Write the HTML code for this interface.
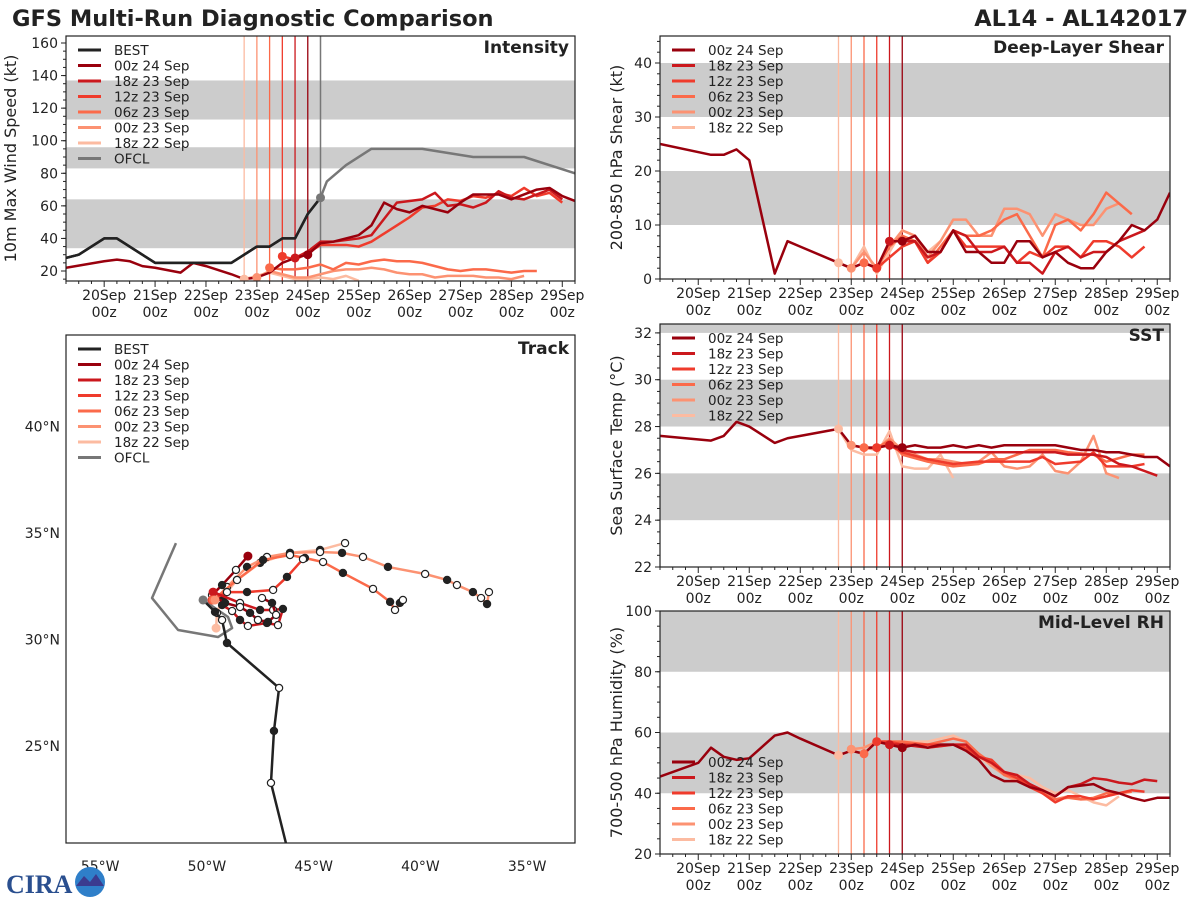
<!DOCTYPE html>
<html><head><meta charset="utf-8"><title>GFS Multi-Run Diagnostic Comparison</title>
<style>
html,body{margin:0;padding:0;background:#fff;}
svg{display:block;font-family:"DejaVu Sans","Liberation Sans",sans-serif;}
</style></head>
<body>
<svg id="chart" width="1200" height="900" viewBox="0 0 1200 900" xmlns="http://www.w3.org/2000/svg">
<rect width="1200" height="900" fill="#fff"/>
<text x="12" y="26" font-size="22.5" font-weight="bold" fill="#222">GFS Multi-Run Diagnostic Comparison</text>
<text x="1188" y="26" font-size="22.5" font-weight="bold" fill="#222" text-anchor="end">AL14 - AL142017</text>
<g id="logo">
<text x="6" y="893" font-size="26" font-weight="bold" fill="#2a4f8f" font-family="Liberation Serif,serif">CIRA</text>
<circle cx="90" cy="882" r="15" fill="#2f7fc9"/>
<path d="M76,886 L84,876 L90,882 L96,874 L104,886 Z" fill="#3b3b8f"/>
</g>
</svg>
<script>
// ---------- data ----------
var dayLabels = ["20Sep","21Sep","22Sep","23Sep","24Sep","25Sep","26Sep","27Sep","28Sep","29Sep"];
var runNames = ["00z 24 Sep","18z 23 Sep","12z 23 Sep","06z 23 Sep","00z 23 Sep","18z 22 Sep"];
var runInit = [4.0,3.75,3.5,3.25,3.0,2.75];
var runColors = ["#99000d","#cb181d","#ef3b2c","#fb6a4a","#fc9272","#fcbba1"];

// Intensity (kt) [day, value]
var bestInt = [[-0.75,28],[-0.5,30],[-0.25,35],[0,40],[0.25,40],[0.5,35],[0.75,30],[1,25],[1.5,25],[2,25],[2.5,25],[2.75,30],[3,35],[3.25,35],[3.5,40],[3.75,40],[4,55],[4.25,65]];
var ofclInt = [[4.25,65],[4.375,75],[4.75,85],[5.25,95],[6.25,95],[7.25,90],[8.25,90],[9.25,80]];
var int00z24 = [[-0.75,22],[0,26],[0.25,27],[0.5,26],[0.75,23],[1,22],[1.5,19],[1.75,25],[2,23],[2.5,18],[2.75,15],[3,16],[3.25,19],[3.5,25],[3.75,28],[4,30],[4.25,37],[4.5,38],[4.75,40],[5,42],[5.25,48],[5.5,62],[5.75,58],[6,56],[6.25,60],[6.5,58],[6.75,56],[7,62],[7.25,67],[7.5,67],[7.75,67],[8,64],[8.25,67],[8.5,70],[8.75,71],[9,66],[9.25,63]];
var int18z23 = [[3.75,28],[4,32],[4.25,38],[4.5,38],[4.75,39],[5,40],[5.25,42],[5.5,52],[5.75,62],[6,63],[6.25,64],[6.5,68],[6.75,60],[7,61],[7.25,59],[7.5,62],[7.75,69],[8,65],[8.25,64],[8.5,67],[8.75,70],[9,64]];
var int12z23 = [[3.5,29],[3.75,27],[4,31],[4.25,36],[4.5,36],[4.75,36],[5,35],[5.25,38],[5.5,43],[5.75,48],[6,53],[6.25,59],[6.5,60],[6.75,64],[7,63],[7.25,66],[7.5,65],[7.75,68],[8,66],[8.25,71],[8.5,66],[8.75,68],[9,62]];
var int06z23 = [[3.25,22],[3.5,21],[3.75,21],[4,22],[4.25,24],[4.5,21],[4.75,25],[5,24],[5.25,26],[5.5,27],[5.75,26],[6,26],[6.25,25],[6.5,23],[6.75,21],[7,20],[7.25,21],[7.5,21],[7.75,20],[8,19],[8.25,20],[8.5,20]];
var int00z23 = [[3,16],[3.25,20],[3.5,18],[3.75,16],[4,16],[4.25,18],[4.5,20],[4.75,21],[5,21],[5.25,22],[5.5,21],[5.75,19],[6,18],[6.25,18],[6.5,16],[6.75,17],[7,17],[7.25,17],[7.5,16],[7.75,16],[8,15],[8.25,17]];
var int18z22 = [[2.75,15],[3,17],[3.25,19],[3.5,17],[3.75,15],[4,15],[4.25,16],[4.5,15],[4.75,17],[5,14]];

// Shear (kt)
var shr00z24 = [[-0.75,25],[0.25,23],[0.5,23],[0.75,24],[1,22],[1.5,1],[1.75,7],[2,6],[2.75,3],[3,2],[3.25,3],[3.5,2],[3.75,7],[4,7],[4.25,8],[4.5,5],[4.75,5],[5,9],[5.25,5],[5.5,5],[5.75,3],[6,3],[6.25,7],[6.5,7],[6.75,4],[7,5],[7.25,3],[7.5,2],[7.75,2],[8,5],[8.25,7],[8.5,10],[8.75,9],[9,11],[9.25,16]];
var shr18z23 = [[3.75,7],[4,7],[4.25,7],[4.5,4],[4.75,5],[5,9],[5.25,8],[5.5,5],[5.75,5],[6,6],[6.25,3],[6.5,3],[6.75,1],[7,5],[7.25,6],[7.5,4],[7.75,5],[8,5],[8.25,7],[8.5,8],[8.75,9]];
var shr12z23 = [[3.5,2],[3.75,4],[4,6],[4.25,7],[4.5,3],[4.75,5],[5,9],[5.25,6],[5.5,6],[5.75,6],[6,6],[6.25,3],[6.5,5],[6.75,4],[7,6],[7.25,6],[7.5,4],[7.75,7],[8,7],[8.25,6],[8.5,4],[8.75,6]];
var shr06z23 = [[3.25,3],[3.5,2],[3.75,6],[4,8],[4.25,7],[4.5,3],[4.75,6],[5,9],[5.25,8],[5.5,8],[5.75,9],[6,11],[6.25,12],[6.5,8],[6.75,4],[7,10],[7.25,11],[7.5,9],[7.75,12],[8,16],[8.25,14],[8.5,12]];
var shr00z23 = [[3,2],[3.25,5],[3.5,2],[3.75,6],[4,9],[4.25,8],[4.5,4],[4.75,7],[5,11],[5.25,11],[5.5,8],[5.75,8],[6,13],[6.25,13],[6.5,12],[6.75,8],[7,12],[7.25,11],[7.5,10],[7.75,10],[8,13],[8.25,14],[8.5,12]];
var shr18z22 = [[2.75,3],[3,2],[3.25,6],[3.5,1],[3.75,5],[4,9],[4.25,8],[4.5,5],[4.75,7]];

// SST (C)
var sst00z24 = [[-0.75,27.6],[0.25,27.4],[0.5,27.6],[0.75,28.2],[1,28.0],[1.5,27.3],[1.75,27.5],[2.75,27.9],[3,27.2],[3.25,27.1],[3.5,27.1],[3.75,27.2],[4,27.1],[4.25,27.2],[4.5,27.1],[4.75,27.1],[5,27.2],[5.25,27.1],[5.5,27.2],[5.75,27.1],[6,27.2],[6.5,27.2],[7,27.2],[7.25,27.1],[7.5,27.0],[7.75,27.0],[8,26.9],[8.25,26.9],[8.5,26.8],[8.75,26.7],[9,26.7],[9.25,26.3]];
var sst18z23 = [[3.75,27.2],[4,27.0],[4.25,26.9],[5,26.9],[6,26.9],[7,26.9],[7.25,26.8],[7.75,26.8],[8,26.7],[8.25,26.4],[8.5,26.3],[9,25.9]];
var sst12z23 = [[3.5,27.1],[3.75,27.2],[4,26.9],[4.5,26.6],[5,26.4],[5.5,26.5],[6,26.5],[6.5,26.5],[6.75,26.7],[7,26.4],[7.5,26.5],[7.75,26.9],[8,26.3],[8.25,26.3],[8.5,26.3],[8.75,26.4]];
var sst06z23 = [[3.25,27.1],[3.5,27.1],[3.75,27.4],[4,26.8],[4.5,26.5],[4.75,26.4],[5,26.3],[5.5,26.4],[5.75,26.6],[6,26.6],[6.5,27.0],[7,27.0],[7.25,26.9],[7.75,26.8],[8,26.5],[8.5,26.8],[8.75,26.8]];
var sst00z23 = [[3,27.2],[3.25,27.1],[3.5,27.0],[3.75,27.5],[4,27.0],[4.5,26.6],[4.75,26.6],[5,26.5],[5.25,26.4],[5.5,26.5],[5.75,26.9],[6,26.3],[6.25,26.2],[6.5,26.3],[6.75,26.8],[7,26.1],[7.25,26.0],[7.5,26.5],[7.75,27.6],[8,26.0],[8.25,25.8]];
var sst18z22 = [[2.75,27.9],[3,27.0],[3.25,26.8],[3.5,26.8],[3.75,27.8],[4,26.3],[4.25,26.2],[4.5,26.2],[4.75,26.8],[5,25.8]];

// RH (%)
var rh00z24 = [[-0.75,45.5],[0,50],[0.25,55],[0.5,52],[0.75,51],[1,51.5],[1.5,59],[1.75,60],[2,58],[2.75,52.5],[3,54],[3.25,53],[3.5,57],[3.75,56],[4,55],[4.25,56],[4.5,55],[4.75,56],[5,56],[5.25,54],[5.5,51],[5.75,46],[6,44],[6.25,44],[6.5,42],[6.75,41],[7,39],[7.25,42],[7.5,42.5],[7.75,43],[8,41],[8.25,40],[8.5,38.5],[8.75,37.5],[9,38.5],[9.25,38.5]];
var rh18z23 = [[3.75,56],[4,56],[4.5,55],[5,56],[5.25,56],[5.5,52],[5.75,50],[6,47],[6.25,46],[6.5,43],[6.75,41],[7,39],[7.25,42],[7.5,43],[7.75,45],[8,44.5],[8.25,43.5],[8.5,43],[8.75,44.5],[9,44]];
var rh12z23 = [[3.5,57],[3.75,57],[4,56],[4.5,56],[5,56],[5.25,55],[5.5,52],[5.75,51],[6,47],[6.25,45],[6.5,42],[6.75,40],[7,37],[7.25,39],[7.5,39],[7.75,38],[8,39],[8.25,40],[8.5,41],[8.75,40.5]];
var rh06z23 = [[3.25,53],[3.5,57],[3.75,57],[4,57],[4.5,56],[5,58],[5.25,57],[5.5,53],[5.75,50],[6,46],[6.25,45],[6.5,43],[6.75,40],[7,38],[7.25,38.5],[7.5,38],[7.75,38.5],[8,40],[8.25,40],[8.5,40.5]];
var rh00z23 = [[3,54.5],[3.25,55],[3.5,57],[3.75,57],[4,57],[4.5,55],[5,56],[5.25,56],[5.5,53],[5.75,49],[6,46],[6.25,44],[6.5,43],[6.75,41],[7,38],[7.25,39],[7.5,38],[7.75,38],[8,39],[8.25,40]];
var rh18z22 = [[2.75,52.5],[3,54],[3.25,55],[3.5,57],[3.75,57],[4,57],[4.5,57],[5,59],[5.25,57],[5.5,52],[5.75,49],[6,47],[6.25,46],[6.5,45],[6.75,42],[7,40],[7.25,41],[7.5,39],[7.75,37],[8,36],[8.25,39]];

// Track [lon, lat]
var trkBest = [[-46.30,20.45],[-47.00,23.27],[-46.86,25.71],[-46.62,27.73],[-49.06,29.84],[-49.29,30.92],[-49.62,31.30],[-50.18,31.86]];
var trkOfcl = [[-50.18,31.86],[-49.01,31.06],[-48.82,30.54],[-49.48,30.12],[-51.35,30.45],[-52.57,31.95],[-51.45,34.53]];
var trk00z24 = [[-48.08,33.92],[-48.64,33.27],[-49.29,32.56],[-49.76,32.09],[-49.15,31.72],[-48.45,31.53],[-47.98,31.25],[-47.61,30.92],[-47.14,30.83],[-46.76,31.16],[-46.95,31.72],[-47.42,31.95]];
var trk18z23 = [[-49.71,32.23],[-48.45,31.72],[-47.51,31.39],[-46.90,31.39],[-46.44,31.44],[-46.67,30.68],[-47.19,30.78],[-48.08,30.64],[-48.45,30.92],[-48.82,31.34],[-49.29,31.62]];
var trk12z23 = [[-49.76,31.86],[-49.06,32.23],[-48.12,32.23],[-46.90,32.33],[-46.25,32.94],[-45.50,33.78]];
var trk06z23 = [[-49.71,31.86],[-48.59,32.80],[-47.37,33.74],[-46.11,33.97],[-45.41,33.83],[-44.56,33.64],[-43.63,33.13],[-42.22,32.38],[-41.42,31.77],[-41.19,31.39],[-40.96,31.72],[-40.82,31.86]];
var trk00z23 = [[-49.62,31.86],[-49.06,32.47],[-48.12,33.41],[-47.19,33.88],[-46.11,34.07],[-44.70,34.11],[-43.67,34.07],[-42.69,33.88],[-41.52,33.41],[-39.78,33.08],[-38.75,32.80],[-38.29,32.56],[-37.54,32.23],[-37.16,31.95],[-36.88,31.67],[-36.79,32.23]];
var trk18z22 = [[-49.57,30.54],[-49.53,31.25],[-49.25,32.00],[-48.59,32.80],[-47.51,33.60],[-46.11,34.07],[-44.70,34.21],[-43.53,34.53]];

var intTicks = [20,40,60,80,100,120,140,160];
var shrTicks = [0,10,20,30,40];
var sstTicks = [22,24,26,28,30,32];
var rhTicks = [20,40,60,80,100];
var latTicks = [25,30,35,40];
var lonTicks = [-55,-50,-45,-40,-35];

// ---------- drawing ----------
var NS = "http://www.w3.org/2000/svg";
var svg = document.getElementById("chart");
function mk(tag, attrs, parent){
  var e = document.createElementNS(NS, tag);
  for (var k in attrs) e.setAttribute(k, attrs[k]);
  (parent||svg).appendChild(e);
  return e;
}
var XMIN=-0.75, XMAX=9.25;

function panel(cfg){
  var g = mk("g",{});
  
  
  var sx = function(d){ return cfg.x0 + (d-XMIN)/(XMAX-XMIN)*(cfg.x1-cfg.x0); };
  var sy = function(v){ return cfg.y1 - (v-cfg.ymin)/(cfg.ymax-cfg.ymin)*(cfg.y1-cfg.y0); };
  var clipId = "clip-"+cfg.name;
  var cp = mk("clipPath",{id:clipId},g);
  mk("rect",{x:cfg.x0,y:cfg.y0,width:cfg.x1-cfg.x0,height:cfg.y1-cfg.y0},cp);
  var inner = mk("g",{"clip-path":"url(#"+clipId+")"},g);
  cfg.bands.forEach(function(b){
    var r = mk("rect",{x:cfg.x0,y:sy(b[1]),width:cfg.x1-cfg.x0,height:sy(b[0])-sy(b[1]),fill:"#cccccc"},inner);
    
    
  });
  runInit.forEach(function(t,i){
    var l = mk("line",{x1:sx(t),x2:sx(t),y1:cfg.y0,y2:cfg.y1,stroke:runColors[i],"stroke-width":1.3},inner);
    
    
  });
  if (cfg.ofclLine){
    var lo = mk("line",{x1:sx(4.25),x2:sx(4.25),y1:cfg.y0,y2:cfg.y1,stroke:"#777","stroke-width":1.5},inner);
    
    
  }
  function series(data,color,name,w){
    var p = mk("polyline",{points:data.map(function(d){return sx(d[0])+","+sy(d[1]);}).join(" "),fill:"none",stroke:color,"stroke-width":w||2.5,"stroke-linejoin":"round"},inner);
    
    
  }
  if (cfg.best) series(cfg.best,"#222","best-line");
  if (cfg.ofcl) series(cfg.ofcl,"#777","ofcl-line");
  for (var i=cfg.runs.length-1;i>=0;i--) series(cfg.runs[i],runColors[i],"run-line-"+i);
  if (cfg.best) series(cfg.best,"#222","best-line-top");
  cfg.runs.forEach(function(r,i){
    var pt = r.filter(function(d){return Math.abs(d[0]-runInit[i])<1e-6;})[0];
    if (pt){
      var c = mk("circle",{cx:sx(pt[0]),cy:sy(pt[1]),r:4.5,fill:runColors[i]},inner);
      
      
    }
  });
  if (cfg.ofcl){
    var c2 = mk("circle",{cx:sx(cfg.ofcl[0][0]),cy:sy(cfg.ofcl[0][1]),r:4.5,fill:"#777"},inner);
    
    
  }
  mk("rect",{x:cfg.x0,y:cfg.y0,width:cfg.x1-cfg.x0,height:cfg.y1-cfg.y0,fill:"none",stroke:"#222","stroke-width":1.2},g);
  cfg.ticks.forEach(function(v){
    mk("line",{x1:cfg.x0-5,x2:cfg.x0,y1:sy(v),y2:sy(v),stroke:"#222"},g);
    var t = mk("text",{x:cfg.x0-8,y:sy(v)+5,"font-size":14,"text-anchor":"end",fill:"#222"},g);
    t.textContent = v;
    
    
  });
  var step = (cfg.ticks[1]-cfg.ticks[0])/cfg.minorDiv;
  for (var v=cfg.ticks[0]-step*cfg.minorDiv; v<=cfg.ymax; v+=step){
    if (v>=cfg.ymin) mk("line",{x1:cfg.x0-3,x2:cfg.x0,y1:sy(v),y2:sy(v),stroke:"#222"},g);
  }
  for (var h=-0.75; h<=9.25+1e-6; h+=0.25){
    var major = Math.abs(h-Math.round(h))<1e-6;
    mk("line",{x1:sx(h),x2:sx(h),y1:cfg.y1,y2:cfg.y1+(major?6:3),stroke:"#222"},g);
  }
  dayLabels.forEach(function(lbl,i){
    var t1 = mk("text",{x:sx(i),y:cfg.y1+19,"font-size":14,"text-anchor":"middle",fill:"#222"},g);
    t1.textContent = lbl;
    
    
    var t2 = mk("text",{x:sx(i),y:cfg.y1+36,"font-size":14,"text-anchor":"middle",fill:"#222"},g);
    t2.textContent = "00z";
    
    
  });
  var yl = mk("text",{x:0,y:0,"font-size":16,"text-anchor":"middle",fill:"#222",transform:"translate("+cfg.ylx+","+((cfg.y0+cfg.y1)/2)+") rotate(-90)"},g);
  yl.textContent = cfg.ylabel;
  
  
  var tt = mk("text",{x:cfg.x1-6,y:cfg.y0+17,"font-size":17,"font-weight":"bold","text-anchor":"end",fill:"#222"},g);
  tt.textContent = cfg.title;
  
  
  legend(g,cfg.x0+12,cfg.legY,cfg.best!=null,cfg.ofcl!=null);
}

function legend(g,x,y,withBest,withOfcl){
  var items=[];
  if (withBest) items.push(["BEST","#222"]);
  runNames.forEach(function(n,i){items.push([n,runColors[i]]);});
  if (withOfcl) items.push(["OFCL","#777"]);
  var lg = mk("g",{},g);
  
  
  items.forEach(function(it,i){
    var yy = y + i*15.5;
    var e = mk("g",{},lg);
    
    
    mk("line",{x1:x,x2:x+23,y1:yy,y2:yy,stroke:it[1],"stroke-width":3},e);
    var t = mk("text",{x:x+36,y:yy+5,"font-size":13.5,fill:"#222"},e);
    t.textContent = it[0];
  });
}

panel({name:"intensity-panel",x0:66,x1:575,y0:36,y1:281,ymin:13.86,ymax:164.3,ticks:intTicks,minorDiv:4,
  bands:[[34,64],[83,96],[113,137]],best:bestInt,ofcl:ofclInt,ofclLine:true,
  runs:[int00z24,int18z23,int12z23,int06z23,int00z23,int18z22],ylabel:"10m Max Wind Speed (kt)",ylx:16,title:"Intensity",legY:50});
panel({name:"shear-panel",x0:660,x1:1170,y0:36,y1:279,ymin:0,ymax:45,ticks:shrTicks,minorDiv:5,
  bands:[[10,20],[30,40]],best:null,ofcl:null,
  runs:[shr00z24,shr18z23,shr12z23,shr06z23,shr00z23,shr18z22],ylabel:"200-850 hPa Shear (kt)",ylx:622,title:"Deep-Layer Shear",legY:50});
panel({name:"sst-panel",x0:660,x1:1170,y0:324,y1:567,ymin:22,ymax:32.38,ticks:sstTicks,minorDiv:4,
  bands:[[24,26],[28,30],[32,33]],best:null,ofcl:null,
  runs:[sst00z24,sst18z23,sst12z23,sst06z23,sst00z23,sst18z22],ylabel:"Sea Surface Temp (°C)",ylx:622,title:"SST",legY:338});
panel({name:"rh-panel",x0:660,x1:1170,y0:611,y1:854,ymin:20,ymax:100,ticks:rhTicks,minorDiv:4,
  bands:[[40,60],[80,100]],best:null,ofcl:null,
  runs:[rh00z24,rh18z23,rh12z23,rh06z23,rh00z23,rh18z22],ylabel:"700-500 hPa Humidity (%)",ylx:622,title:"Mid-Level RH",legY:762});

(function(){
  var x0=66,x1=575,y0=335,y1=843;
  var lonMin=-56.6,lonMax=-32.76,latMin=20.45,latMax=44.3;
  var px=function(lon){return x0+(lon-lonMin)/(lonMax-lonMin)*(x1-x0);};
  var py=function(lat){return y1-(lat-latMin)/(latMax-latMin)*(y1-y0);};
  var g = mk("g",{});
  
  
  var cp = mk("clipPath",{id:"clip-track"},g);
  mk("rect",{x:x0,y:y0,width:x1-x0,height:y1-y0},cp);
  var inner = mk("g",{"clip-path":"url(#clip-track)"},g);
  function trk(data,color,name,markers){
    var p = mk("polyline",{points:data.map(function(d){return px(d[0])+","+py(d[1]);}).join(" "),fill:"none",stroke:color,"stroke-width":2.5,"stroke-linejoin":"round"},inner);
    
    
    if (markers){
      data.forEach(function(d,i){
        if (i===0) return;
        var c = mk("circle",{cx:px(d[0]),cy:py(d[1]),r:3.6,fill:(i%2===0)?"#222":"#fff",stroke:"#222","stroke-width":1.2},inner);
        
        
      });
    }
  }
  trk(trkOfcl,"#777","ofcl-track",false);
  var runs=[trk00z24,trk18z23,trk12z23,trk06z23,trk00z23,trk18z22];
  for (var i=runs.length-1;i>=0;i--) trk(runs[i],runColors[i],"run-track-"+i,true);
  trk(trkBest,"#222","best-track",true);
  runs.forEach(function(r,i){
    var c = mk("circle",{cx:px(r[0][0]),cy:py(r[0][1]),r:4.5,fill:runColors[i]},inner);
    
    
  });
  var og = mk("circle",{cx:px(trkOfcl[0][0]),cy:py(trkOfcl[0][1]),r:4.5,fill:"#777"},inner);
  
  
  mk("rect",{x:x0,y:y0,width:x1-x0,height:y1-y0,fill:"none",stroke:"#222","stroke-width":1.2},g);
  latTicks.forEach(function(v){
    var t = mk("text",{x:x0-6,y:py(v)+5,"font-size":14,"text-anchor":"end",fill:"#222"},g);
    t.textContent = v+"°N";
    
    
  });
  lonTicks.forEach(function(v){
    var t = mk("text",{x:px(v),y:871,"font-size":14,"text-anchor":"middle",fill:"#222"},g);
    t.textContent = (-v)+"°W";
    
    
  });
  var tt = mk("text",{x:x1-6,y:y0+19,"font-size":17,"font-weight":"bold","text-anchor":"end",fill:"#222"},g);
  tt.textContent = "Track";
  
  
  legend(g,x0+12,349,true,true);
})();
svg.appendChild(document.getElementById("logo"));
</script>
</body></html>
